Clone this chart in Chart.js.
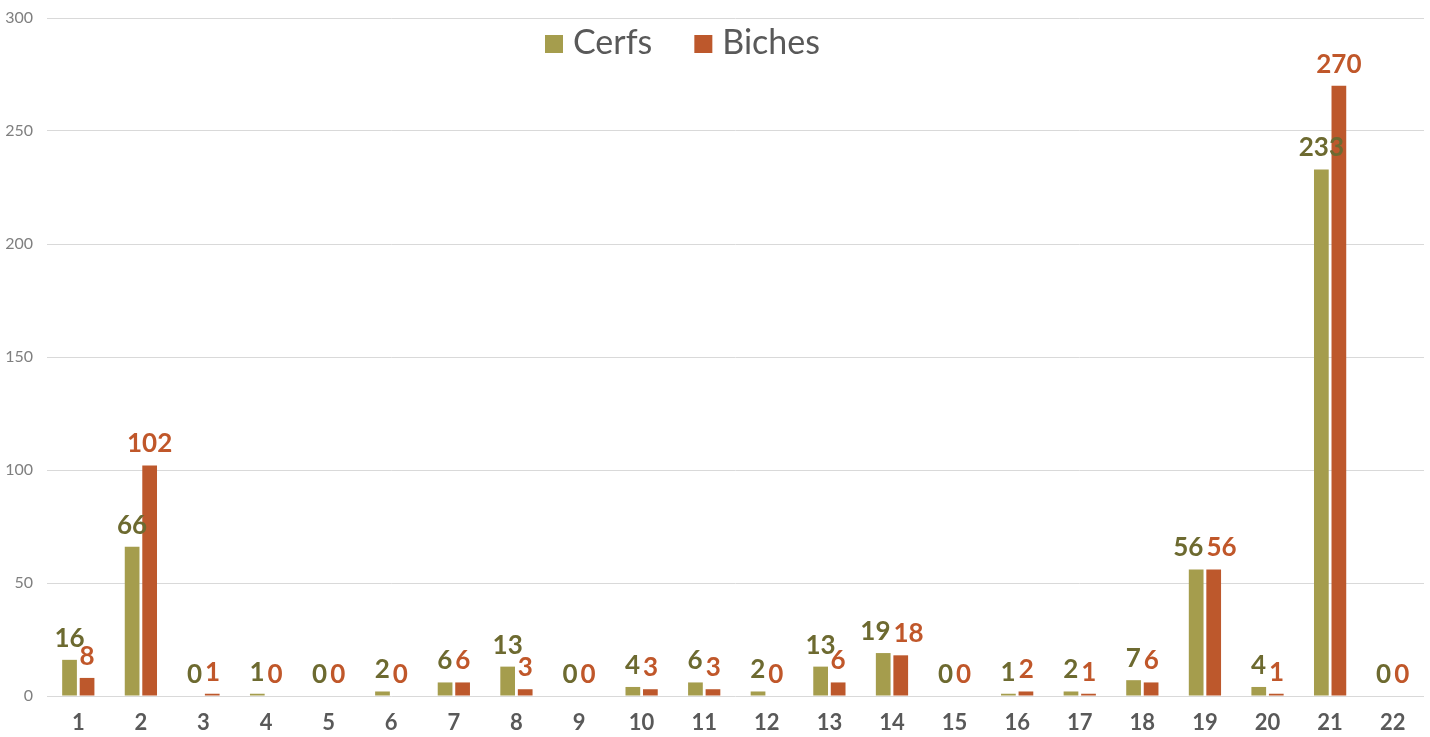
<!DOCTYPE html>
<html>
<head>
<meta charset="utf-8">
<script src="https://cdn.jsdelivr.net/npm/chart.js@4.4.1/dist/chart.umd.min.js"></script>
<style>
  html, body { margin: 0; padding: 0; background: #fff; }
  #wrap { width: 1430px; height: 737px; }
</style>
</head>
<body>
<div id="wrap"><canvas id="c"></canvas></div>
<script>
const categories = ['1','2','3','4','5','6','7','8','9','10','11','12','13','14','15','16','17','18','19','20','21','22'];
const cerfs  = [16, 66, 0, 1, 0, 2, 6, 13, 0, 4, 6, 2, 13, 19, 0, 1, 2, 7, 56, 4, 233, 0];
const biches = [8, 102, 1, 0, 0, 0, 6, 3, 0, 3, 3, 0, 6, 18, 0, 2, 1, 6, 56, 1, 270, 0];
const yTicks = [0, 50, 100, 150, 200, 250, 300];

const FONT = 'Lato, "DejaVu Sans", sans-serif';
const labelColors = ['#6d6a30', '#c0572a'];

// value labels above each bar; pairs at the same height get pushed apart
const barLabels = {
  id: 'barLabels',
  afterDatasetsDraw(chart) {
    const ctx = chart.ctx;
    ctx.save();
    ctx.font = 'bold 26px ' + FONT;
    ctx.textAlign = 'center';
    ctx.textBaseline = 'alphabetic';
    const m0 = chart.getDatasetMeta(0).data, m1 = chart.getDatasetMeta(1).data;
    const d0 = chart.data.datasets[0].data, d1 = chart.data.datasets[1].data;
    m0.forEach((b0, j) => {
      const b1 = m1[j];
      const t0 = String(d0[j]), t1 = String(d1[j]);
      let x0 = b0.x, x1 = b1.x;
      if (Math.abs(b0.y - b1.y) < 12) {
        const need = (ctx.measureText(t0).width + ctx.measureText(t1).width) / 2 + 3;
        const have = x1 - x0;
        if (have < need) { const s = (need - have) / 2; x0 -= s; x1 += s; }
      }
      ctx.fillStyle = labelColors[0];
      ctx.fillText(t0, x0, b0.y - 13);
      ctx.fillStyle = labelColors[1];
      ctx.fillText(t1, x1, b1.y - 13);
    });
    ctx.restore();
  }
};

// legend drawn over the top of the plot, like the original
const topLegend = {
  id: 'topLegend',
  afterDraw(chart) {
    const ctx = chart.ctx;
    ctx.save();
    ctx.font = '34px ' + FONT;
    ctx.textBaseline = 'middle';
    const box = 18, gapText = 10, gapItem = 42;
    let x = chart.width / 2 - 170;
    const y = 43;
    chart.data.datasets.forEach(ds => {
      ctx.fillStyle = ds.backgroundColor;
      ctx.fillRect(x, y - box / 2 + 1, box, box);
      ctx.fillStyle = '#595959';
      ctx.fillText(ds.label, x + box + gapText, y);
      x += box + gapText + ctx.measureText(ds.label).width + gapItem;
    });
    ctx.restore();
  }
};

new Chart(document.getElementById('c'), {
  type: 'bar',
  data: {
    labels: categories,
    datasets: [
      { label: 'Cerfs', data: cerfs, backgroundColor: '#a59d4d', categoryPercentage: 0.56, barPercentage: 0.84 },
      { label: 'Biches', data: biches, backgroundColor: '#bd582c', categoryPercentage: 0.56, barPercentage: 0.84 }
    ]
  },
  options: {
    responsive: true,
    maintainAspectRatio: false,
    animation: false,
    layout: { padding: { top: 18, right: 6, left: 0, bottom: 0 } },
    plugins: {
      legend: { display: false },
      tooltip: { enabled: false }
    },
    scales: {
      x: {
        grid: { display: false, drawTicks: false },
        border: { display: false },
        ticks: { color: '#595959', font: { family: FONT, size: 22, weight: 'bold' }, padding: 14 },
        afterFit(scale) { scale.height = 41; }
      },
      y: {
        min: 0,
        max: 300,
        afterBuildTicks(scale) { scale.ticks = yTicks.map(v => ({ value: v })); },
        grid: { color: '#d9d9d9', lineWidth: 1, drawTicks: false },
        border: { display: false },
        ticks: { color: '#7f7f7f', font: { family: FONT, size: 16 }, padding: 14 },
        afterFit(scale) { scale.width = 47; scale.paddingTop = 0; scale.paddingBottom = 0; }
      }
    }
  },
  plugins: [barLabels, topLegend]
});
</script>
</body>
</html>
